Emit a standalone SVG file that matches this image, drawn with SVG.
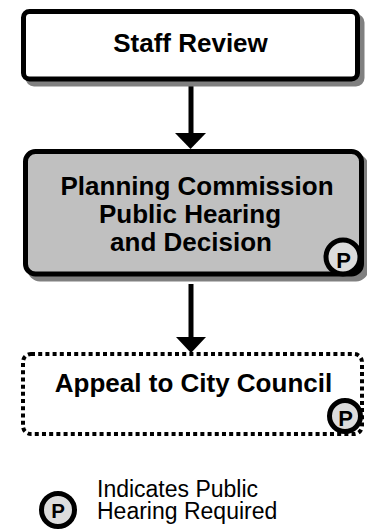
<svg xmlns="http://www.w3.org/2000/svg" width="367" height="529" viewBox="0 0 367 529">
<style>
.t{font-family:"Liberation Sans",Arial,sans-serif;font-weight:bold;font-size:26px;fill:#000;text-anchor:middle}
.p{font-family:"Liberation Sans",Arial,sans-serif;font-weight:bold;fill:#000;text-anchor:middle}
.lg{font-family:"Liberation Sans",Arial,sans-serif;font-size:23px;fill:#000}
.sh{fill:#808080;stroke:#808080;stroke-width:5}
.bx{stroke:#000;stroke-width:5}
.pc{fill:#dcdcdc;stroke:#000;stroke-width:5}
.ln{stroke:#000;stroke-width:5;fill:none}
</style>
<rect width="367" height="529" fill="#fff"/>
<g id="connectors">
<line class="ln" x1="191" y1="86" x2="191" y2="134"/>
<polygon points="175,133 206,133 190.5,149" fill="#000"/>
<line class="ln" x1="191" y1="284" x2="191" y2="338"/>
<polygon points="176,337 206,337 191,353" fill="#000"/>
</g>
<g id="staff-review">
<rect class="sh" x="28" y="16.5" width="334" height="67.5" rx="6"/>
<rect class="bx" x="23.5" y="11.5" width="334" height="67.5" rx="6" fill="#fff"/>
<text class="t" x="190.5" y="52">Staff Review</text>
</g>
<g id="planning-commission">
<rect class="sh" x="30" y="156.5" width="336" height="122.5" rx="10"/>
<rect class="bx" x="25.5" y="151.5" width="336" height="122.5" rx="10" fill="#c0c0c0"/>
<text class="t" x="197" y="195">Planning Commission</text>
<text class="t" x="190" y="223">Public Hearing</text>
<text class="t" x="191" y="251">and Decision</text>
<circle class="pc" cx="343" cy="257" r="17"/>
<text class="p" x="343.5" y="268" font-size="22">P</text>
</g>
<g id="appeal">
<rect x="23" y="354" width="339" height="80" rx="8" fill="#fff" stroke="#000" stroke-width="4" stroke-dasharray="4 3.2"/>
<text class="t" x="193.5" y="391.5">Appeal to City Council</text>
<circle class="pc" cx="345" cy="416" r="15.5" stroke-width="4.5"/>
<text class="p" x="345.5" y="426" font-size="22">P</text>
</g>
<g id="legend">
<circle class="pc" cx="58" cy="510" r="16.5"/>
<text class="p" x="58" y="517.5" font-size="20.5">P</text>
<text class="lg" x="97" y="497">Indicates Public</text>
<text class="lg" x="97" y="519">Hearing Required</text>
</g>
</svg>
